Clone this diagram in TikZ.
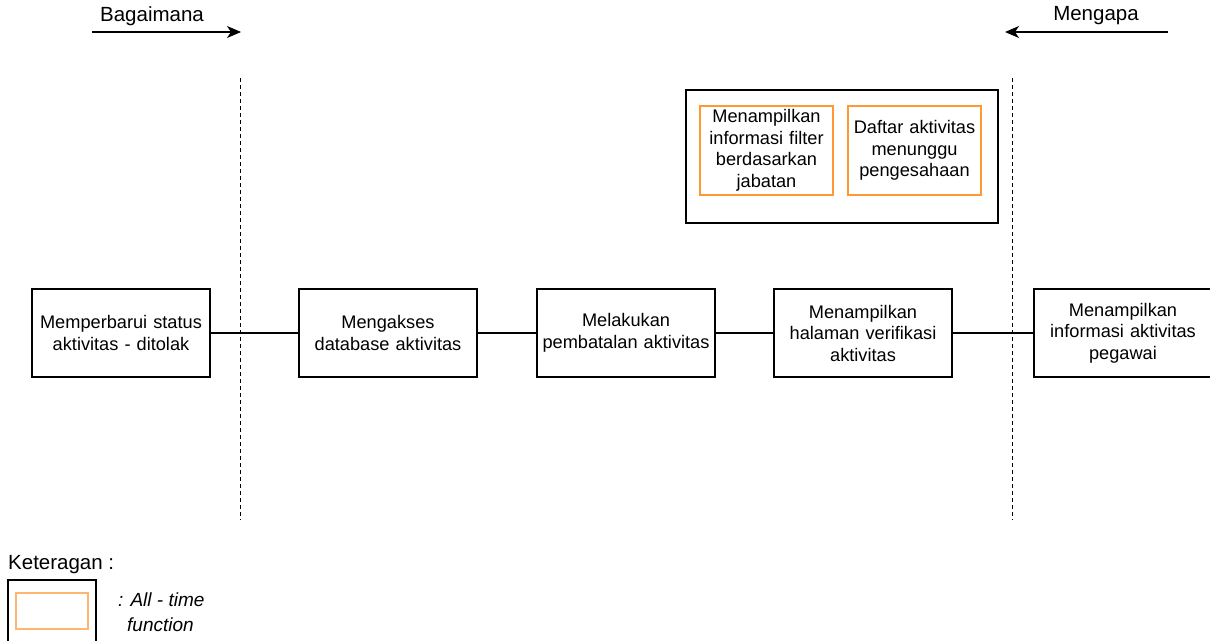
\documentclass[tikz,border=0pt]{standalone}
\usepackage{fontspec}
\setmainfont{Liberation Sans}
\usetikzlibrary{arrows.meta}
\definecolor{allorange}{HTML}{FF9933}
\definecolor{legorange}{HTML}{FFB570}
\tikzset{
  boxfont/.style={font=\fontsize{18.2}{21.5}\selectfont},
  proc/.style={draw=black, line width=1.2pt, fill=white, minimum width=178pt, minimum height=88pt,
    align=center, text width=176pt, inner sep=0pt, boxfont},
  alltime/.style={draw=allorange, line width=1.2pt, fill=white, minimum width=133pt, minimum height=89pt,
    align=center, text width=131pt, inner sep=0pt, boxfont},
  link/.style={draw=black, line width=1.2pt},
  divider/.style={draw=black, line width=1pt, dash pattern=on 4pt off 3pt},
  dirarrow/.style={draw=black, line width=1.3pt, -{Stealth[length=14pt,width=12pt,inset=4pt]}},
  caption/.style={font=\fontsize{20.5}{24}\selectfont, inner sep=0pt},
}
\begin{document}
\begin{tikzpicture}[x=1pt,y=-1pt]
\useasboundingbox (0,0) rectangle (1210,640);

% direction markers
\coordinate (howA) at (92,32);
\coordinate (howB) at (241,32);
\coordinate (whyA) at (1168,32);
\coordinate (whyB) at (1005,32);
\draw[dirarrow] (howA) -- (howB);
\draw[dirarrow] (whyA) -- (whyB);
\node[caption] (how) at (152,16) {Bagaimana};
\node[caption] (why) at (1096,16) {Mengapa};

% dashed dividers
\coordinate (d1t) at (240,78);
\coordinate (d1b) at (240,520);
\coordinate (d2t) at (1012,78);
\coordinate (d2b) at (1012,520);

% all-time group
\node[draw=black, line width=1.2pt, minimum width=312pt, minimum height=133pt, inner sep=0pt] (grp) at (842,156.5) {};
\node[alltime] (f1) at (766.5,150.5) {Menampilkan\\informasi filter\\berdasarkan\\jabatan};
\node[alltime] (f2) at (914.5,150.5) {Daftar aktivitas\\menunggu\\pengesahaan};

% main chain
\node[proc] (b1) at (121,333) {Memperbarui status\\aktivitas - ditolak};
\node[proc] (b2) at (388,333) {Mengakses\\database aktivitas};
\node[proc] (b3) at (626,333) {Melakukan\\pembatalan aktivitas};
\node[proc] (b4) at (863,333) {Menampilkan\\halaman verifikasi\\aktivitas};
\node[proc] (b5) at (1123,333) {Menampilkan\\informasi aktivitas\\pegawai};

\draw[link] (b1.east) -- (b2.west);
\draw[link] (b2.east) -- (b3.west);
\draw[link] (b3.east) -- (b4.west);
\draw[link] (b4.east) -- (b5.west);

% dividers are drawn over the links
\draw[divider] (d1t) -- (d1b);
\draw[divider] (d2t) -- (d2b);

% legend
\node[caption, anchor=west] (legt) at (8,565) {Keteragan :};
\node[draw=black, line width=1.2pt, minimum width=88pt, minimum height=62pt, inner sep=0pt] (legbox) at (52,611) {};
\node[draw=legorange, line width=2pt, minimum width=72pt, minimum height=36pt, inner sep=0pt] (legin) at (legbox.center) {};
\node[inner sep=0pt, anchor=west, align=left, font=\fontsize{19}{24.5}\selectfont\itshape] (legd) at (118,612) {: All - time\\\hspace*{9pt}function};
\end{tikzpicture}
\end{document}
